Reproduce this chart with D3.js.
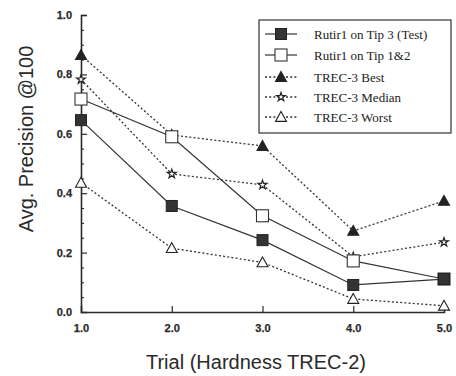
<!DOCTYPE html>
<html>
<head>
<meta charset="utf-8">
<script src="https://cdn.jsdelivr.net/npm/d3@7"></script>
<style>
  html, body { margin: 0; padding: 0; background: #ffffff; }
  svg { display: block; }
</style>
</head>
<body>
<svg id="chart" width="456" height="376"></svg>
<script>
// Trials (hardness on TREC-2) and average precision at 100 documents
const trials = [1, 2, 3, 4, 5];
const xTicks = [1, 2, 3, 4, 5];
const yTicks = [0, 0.2, 0.4, 0.6, 0.8, 1.0];

const rutirTest = [0.646, 0.357, 0.242, 0.091, 0.111];
const rutirTrain = [0.717, 0.590, 0.324, 0.172, 0.111];
const trecBest = [0.865, 0.596, 0.559, 0.273, 0.374];
const trecMedian = [0.783, 0.465, 0.428, 0.186, 0.235];
const trecWorst = [0.435, 0.215, 0.167, 0.044, 0.021];

const seriesNames = ["Rutir1 on Tip 3 (Test)", "Rutir1 on Tip 1&2", "TREC-3 Best", "TREC-3 Median", "TREC-3 Worst"];
const seriesValues = [rutirTest, rutirTrain, trecBest, trecMedian, trecWorst];
const seriesMarkers = ["squareFilled", "squareOpen", "triFilled", "star", "triOpen"];
const seriesDashed = [false, false, true, true, true];

const ink = "#2a2a2a";
const svg = d3.select("#chart");

const x = d3.scaleLinear().domain([1, 5]).range([81, 444]);
const y = d3.scaleLinear().domain([0, 1]).range([312, 15]);

// Axes
const gx = svg.append("g").attr("transform", `translate(0,${y(0)})`)
  .call(d3.axisBottom(x).tickValues(xTicks).tickSize(-6).tickPadding(14).tickFormat(d3.format(".1f")));
const gy = svg.append("g").attr("transform", `translate(${x(1)},0)`)
  .call(d3.axisLeft(y).tickValues(yTicks).tickSize(-6).tickPadding(9).tickFormat(d3.format(".1f")));
// minor y ticks every 0.05
svg.append("g").attr("transform", `translate(${x(1)},0)`)
  .call(d3.axisLeft(y).tickValues(d3.range(0.05, 1.0, 0.05).filter(v => Math.abs(v * 5 - Math.round(v * 5)) > 1e-6))
    .tickSize(-3).tickFormat(""))
  .call(g => g.select(".domain").remove())
  .call(g => g.selectAll(".tick line").attr("stroke", ink).attr("stroke-width", 1.1));

[gx, gy].forEach(g => {
  g.select(".domain").attr("stroke", ink).attr("stroke-width", 1.6);
  g.selectAll(".tick line").attr("stroke", ink).attr("stroke-width", 1.2);
  g.selectAll(".tick text").attr("fill", ink)
    .style("font-family", "'Liberation Sans', Arial, sans-serif")
    .style("font-size", "11px").style("font-weight", "600")
    .attr("stroke", ink).attr("stroke-width", 0.25);
});
gx.selectAll(".tick").filter(d => d === 1 || d === 5).select("line").remove();
gy.selectAll(".tick").filter(d => d === 0).select("line").remove();
gx.selectAll(".tick text").attr("dy", "0.5em");

// Axis titles
svg.append("text")
  .attr("x", 256).attr("y", 369)
  .attr("text-anchor", "middle")
  .style("font-family", "'Liberation Sans', Arial, sans-serif")
  .style("font-size", "20px").attr("fill", ink)
  .text("Trial (Hardness TREC-2)");
svg.append("text")
  .attr("transform", "translate(33,139) rotate(-90)")
  .attr("text-anchor", "middle")
  .style("font-family", "'Liberation Sans', Arial, sans-serif")
  .style("font-size", "20px").attr("fill", ink)
  .text("Avg. Precision @100");

// Marker drawing
function drawMarker(g, type, cx, cy) {
  if (type === "squareFilled") {
    g.append("rect").attr("x", cx - 5.5).attr("y", cy - 5.5).attr("width", 11).attr("height", 11)
      .attr("fill", "#333").attr("stroke", "#222").attr("stroke-width", 1);
  } else if (type === "squareOpen") {
    g.append("rect").attr("x", cx - 6).attr("y", cy - 6).attr("width", 12).attr("height", 12)
      .attr("fill", "#fff").attr("stroke", "#333").attr("stroke-width", 1.1);
  } else if (type === "triFilled" || type === "triOpen") {
    const s = 5.5;
    g.append("path").attr("d", `M${cx},${cy - s}L${cx + s},${cy + s * 0.8}L${cx - s},${cy + s * 0.8}Z`)
      .attr("fill", type === "triFilled" ? "#222" : "#fff")
      .attr("stroke", "#222").attr("stroke-width", 1.1);
  } else if (type === "star") {
    g.append("path").attr("d", d3.symbol(d3.symbolStar, 24)())
      .attr("transform", `translate(${cx},${cy})`)
      .attr("fill", "#fff").attr("stroke", "#222").attr("stroke-width", 1.2);
  }
}

const line = d3.line().x((d, i) => x(trials[i])).y(d => y(d));

// Draw dashed series first, then solid series on top
const order = [4, 3, 2, 1, 0];
order.forEach(k => {
  svg.append("path").datum(seriesValues[k])
    .attr("d", line).attr("fill", "none")
    .attr("stroke", "#333").attr("stroke-width", seriesDashed[k] ? 1.3 : 1.2)
    .attr("stroke-dasharray", seriesDashed[k] ? "2,2.2" : null);
});
order.forEach(k => {
  const g = svg.append("g");
  seriesValues[k].forEach((v, i) => drawMarker(g, seriesMarkers[k], x(trials[i]), y(v)));
});

// Legend
const legend = svg.append("g");
legend.append("rect").attr("x", 259).attr("y", 20).attr("width", 192).attr("height", 113)
  .attr("fill", "#fff").attr("stroke", "#333").attr("stroke-width", 1.2);
const rowY = [34, 55, 77, 97, 117];
seriesNames.forEach((name, k) => {
  const ly = rowY[k];
  legend.append("line").attr("x1", 265).attr("x2", 297).attr("y1", ly).attr("y2", ly)
    .attr("stroke", "#333").attr("stroke-width", seriesDashed[k] ? 1.3 : 1.2)
    .attr("stroke-dasharray", seriesDashed[k] ? "2,2.2" : null);
  drawMarker(legend, seriesMarkers[k], 281, ly);
  legend.append("text").attr("x", 314).attr("y", ly + 4.5)
    .style("font-family", "'Liberation Serif', 'Times New Roman', serif")
    .style("font-size", "13px").attr("fill", "#222")
    .text(name);
});
</script>
</body>
</html>
